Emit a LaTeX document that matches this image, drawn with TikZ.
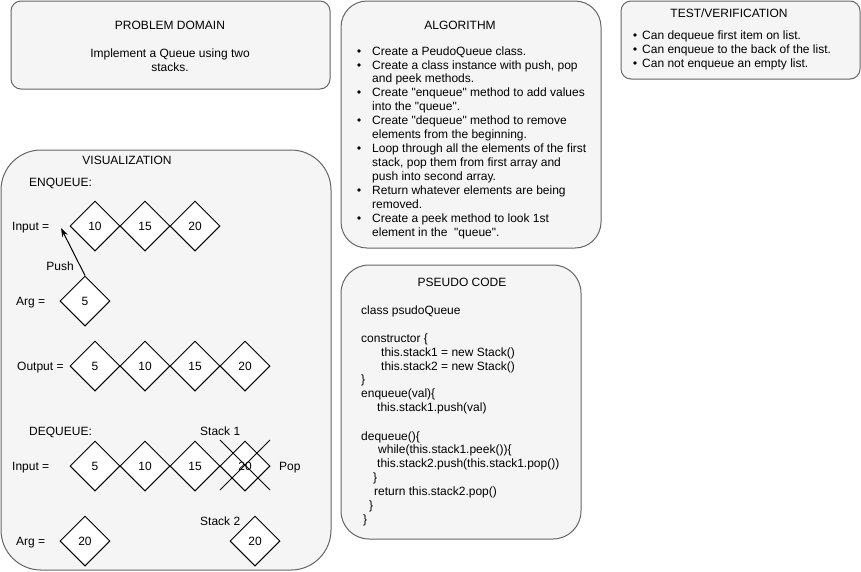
\documentclass[tikz,border=0pt]{standalone}
\usepackage{fontspec}
\setmainfont{Liberation Sans}
\usetikzlibrary{shapes.geometric,arrows.meta}
\definecolor{panelfill}{HTML}{F5F5F5}
\definecolor{panelline}{HTML}{666666}
\newcommand{\qq}{\textquotedbl}
\begin{document}
\begin{tikzpicture}[x=1pt,y=-1pt,
  panel/.style={draw=panelline,fill=panelfill,line width=1pt},
  dia/.style={draw=black,fill=white,diamond,minimum width=50pt,minimum height=50pt,inner sep=0pt,line width=1pt,font=\fontsize{12}{14}\selectfont},
  txt/.style={inner sep=0pt,font=\fontsize{12}{14}\selectfont,text height=8.6pt,text depth=0pt},
  lt/.style={txt,anchor=west},
  bul/.style={circle,fill=black,inner sep=0pt,minimum size=3.6pt},
  conn/.style={draw=black,line width=1pt},
  arr/.style={conn,-{Stealth[length=9pt,width=6pt]}}]
\useasboundingbox (0,0) rectangle (861,571);

% panels
\draw[panel,rounded corners=10pt] (11,1) rectangle (330,89);
\draw[panel,rounded corners=26pt] (341,1) rectangle (601,248);
\draw[panel,rounded corners=10pt] (621,1) rectangle (860,79);
\draw[panel,rounded corners=40pt] (1,150) rectangle (331,570);
\draw[panel,rounded corners=28pt] (341,265) rectangle (581,539);

% problem domain
\node[txt] (pdt) at (170,25) {PROBLEM DOMAIN};
\node[txt] (pd1) at (170,53) {Implement a Queue using two};
\node[txt] (pd2) at (170,67) {stacks.};

% algorithm
\node[txt] (algt) at (460,25) {ALGORITHM};
\foreach \i/\y/\t/\b in {
 1/51/{Create a PeudoQueue class.}/1,
 2/65/{Create a class instance with push, pop}/1,
 3/78/{and peek methods.}/0,
 4/92/{Create \qq enqueue\qq\ method to add values}/1,
 5/106/{into the \qq queue\qq.}/0,
 6/120/{Create \qq dequeue\qq\ method to remove}/1,
 7/134/{elements from the beginning.}/0,
 8/148/{Loop through all the elements of the first}/1,
 9/162/{stack, pop them from first array and}/0,
 10/176/{push into second array.}/0,
 11/190/{Return whatever elements are being}/1,
 12/204/{removed.}/0,
 13/218/{Create a peek method to look 1st}/1,
 14/232/{element in the\ \ \qq queue\qq.}/0}{
  \node[lt] (al\i) at (372,\y) {\t};
  \ifnum\b=1 \node[bul] (ab\i) at (359,\y) {};\fi
}

% test / verification
\node[txt] (tt) at (729,13) {TEST/VERIFICATION};
\foreach \i/\y/\t in {1/35/{Can dequeue first item on list.},2/49/{Can enqueue to the back of the list.},3/63/{Can not enqueue an empty list.}}{
  \node[lt] (tl\i) at (642,\y) {\t};
  \node[bul] (tb\i) at (635,\y) {};
}

% visualization
\node[txt] (vt) at (127,160) {VISUALIZATION};
\node[lt] (enq) at (29,182) {ENQUEUE:};
\node[lt] (in1) at (12,226) {Input =};
\node[dia] (e1) at (95,226) {10};
\node[dia] (e2) at (145,226) {15};
\node[dia] (e3) at (195,226) {20};
\node[lt] (arg1) at (16,301) {Arg =};
\node[dia] (g5) at (85,301) {5};
\coordinate (tip) at (61,228);
\draw[arr] (g5.north) -- (tip);
\node[txt] (push) at (60,266) {Push};

\node[lt] (out) at (17,366) {Output =};
\node[dia] (o1) at (95,366) {5};
\node[dia] (o2) at (145,366) {10};
\node[dia] (o3) at (195,366) {15};
\node[dia] (o4) at (245,366) {20};

\node[lt] (deq) at (29,431) {DEQUEUE:};
\node[lt] (s1) at (200,431) {Stack 1};
\node[lt] (in2) at (12,466) {Input =};
\node[dia] (q1) at (95,466) {5};
\node[dia] (q2) at (145,466) {10};
\node[dia] (q3) at (195,466) {15};
\node[dia] (q4) at (245,466) {20};
\draw[conn] ([shift={(-25,-26)}]q4.center) -- ([shift={(25,24)}]q4.center);
\draw[conn] ([shift={(25,-26)}]q4.center) -- ([shift={(-25,24)}]q4.center);
\node[lt] (pop) at (279,466) {Pop};
\node[lt] (s2) at (200,521) {Stack 2};
\node[lt] (arg2) at (16,541) {Arg =};
\node[dia] (g20) at (85,541) {20};
\node[dia] (st20) at (255,541) {20};

% pseudo code
\node[txt] (pct) at (462,282) {PSEUDO CODE};
\node[lt] (c1) at (361,310) {class psudoQueue};
\node[lt] (c2) at (361,338) {constructor \{};
\node[lt] (c3) at (381,352) {this.stack1 = new Stack()};
\node[lt] (c4) at (381,366) {this.stack2 = new Stack()};
\node[lt] (c5) at (361,379) {\}};
\node[lt] (c6) at (361,393) {enqueue(val)\{};
\node[lt] (c7) at (377,407) {this.stack1.push(val)};
\node[lt] (c8) at (361,436) {dequeue()\{};
\node[lt] (c9) at (378,449) {while(this.stack1.peek())\{};
\node[lt] (c10) at (377,463) {this.stack2.push(this.stack1.pop())};
\node[lt] (c11) at (373,477) {\}};
\node[lt] (c12) at (374,491) {return this.stack2.pop()};
\node[lt] (c13) at (369,505) {\}};
\node[lt] (c14) at (363,519) {\}};
\end{tikzpicture}
\end{document}
